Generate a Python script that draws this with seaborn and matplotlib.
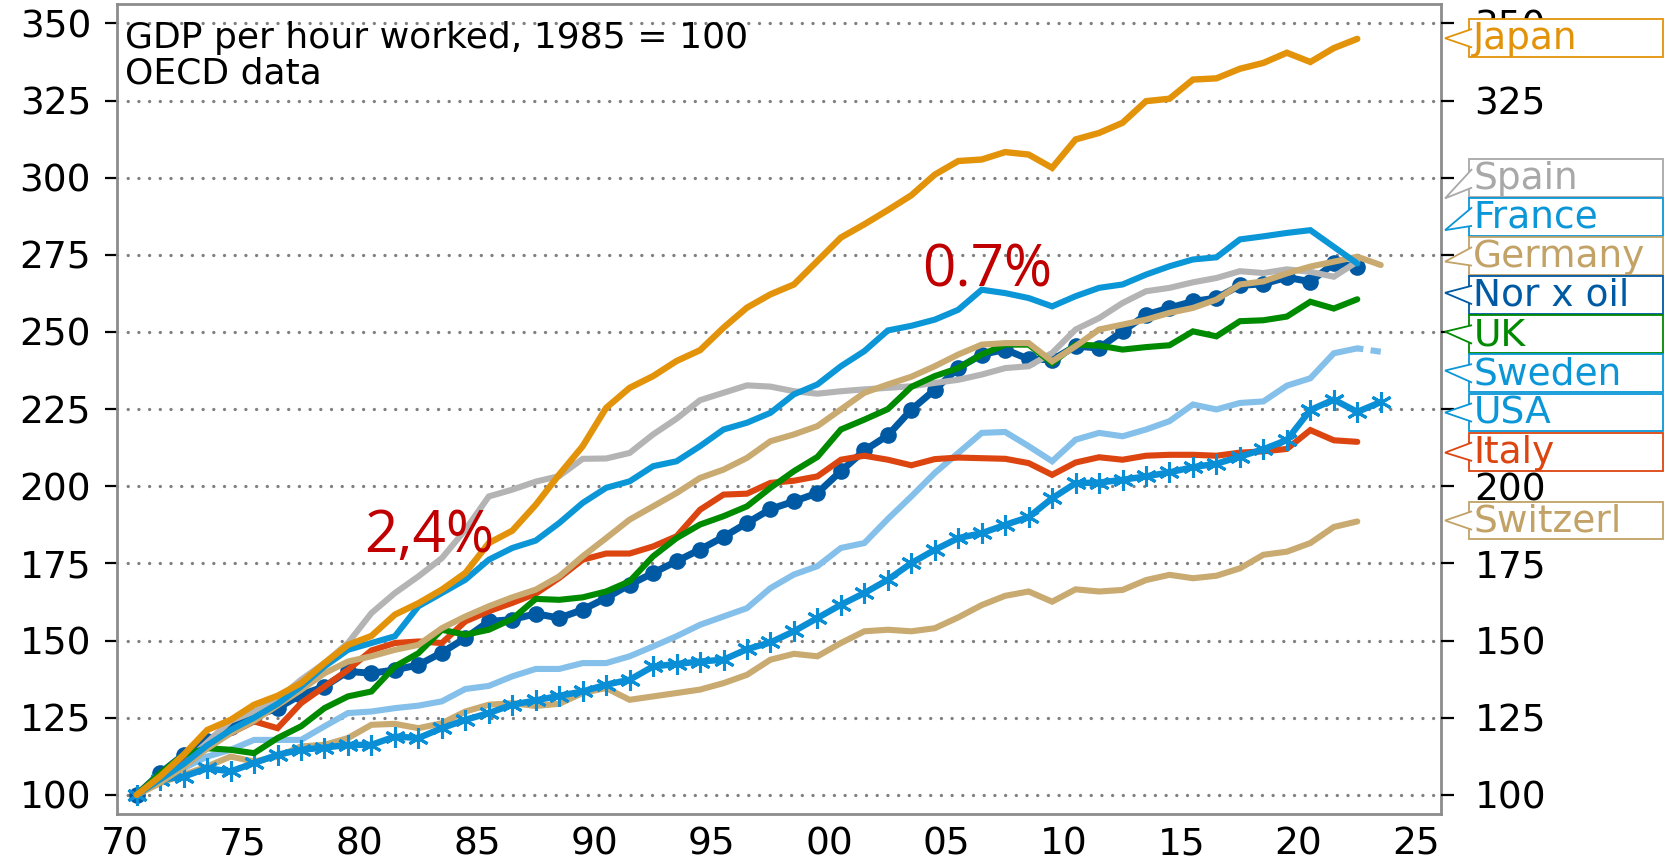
import numpy as np
import pandas as pd
import matplotlib
matplotlib.use("Agg")
import matplotlib.pyplot as plt
import matplotlib.transforms as mtrans
from matplotlib.patches import Rectangle, Polygon
import seaborn as sns

# data: GDP per hour worked, 1985 = 100, one value per year
years = np.arange(1970, 2023)       # 1970..2022
years_long = np.arange(1970, 2024)  # 1970..2023

japan = [100, 106, 113, 121, 124.3, 129.2, 132.1, 136.2, 142.7, 148.6, 151.5, 158.4, 162.1, 166.5,
         171.9, 181.6, 185.6, 194, 203.8, 213, 225.4, 231.9, 235.7, 240.6, 244.1, 251.4, 257.9,
         262.2, 265.4, 273, 280.6, 284.9, 289.5, 294.3, 301, 305.4, 305.9, 308.3, 307.5, 303.2,
         312.4, 314.5, 317.8, 324.8, 325.6, 331.8, 332.2, 335.3, 337.2, 340.5, 337.5, 342, 345]
spain = [100, 105, 110, 117, 124, 127, 131, 137.3, 142.7, 149.2, 158.9, 165.4, 170.8, 176.7,
         185.9, 196.7, 198.9, 201.5, 203.3, 208.9, 209, 210.8, 216.8, 221.9, 227.9, 230.3, 232.7,
         232.3, 230.8, 230, 230.8, 231.4, 231.9, 232.4, 233.5, 234.5, 236.2, 238.3, 238.9, 243.2,
         250.8, 254.5, 259.4, 263.2, 264.3, 266.1, 267.5, 269.7, 269.1, 270.3, 269.5, 267.9, 272.8]
france = [100, 105, 110, 116, 121, 125, 129.5, 135.1, 141.6, 147, 149.2, 151.4, 161.1, 165.4,
          169.7, 176.2, 180, 182.4, 188.1, 194.6, 199.5, 201.6, 206.5, 208.1, 213, 218.4, 220.6,
          223.8, 229.8, 233, 238.9, 243.8, 250.5, 252, 254, 257.2, 263.7, 262.6, 261, 258.3,
          261.6, 264.3, 265.4, 268.6, 271.3, 273.5, 274.2, 280, 281, 282.1, 283, 277.6, 272.2]
germany = [100, 104, 109, 115, 120, 124, 129, 134, 139.4, 143.2, 144.9, 147, 148.6, 154,
           157.8, 161.1, 164, 166.5, 170.8, 177.3, 183.2, 189.2, 193.5, 197.8, 202.7, 205.4, 209.2,
           214.6, 216.8, 219.5, 224.9, 230.3, 233, 235.5, 238.9, 242.7, 245.9, 246.4, 246.4, 240.5,
           245.4, 250.8, 252.4, 254, 256.2, 257.8, 260.5, 265.4, 266.4, 269, 271.2, 272.8, 274.4, 271.7]
nor_x_oil = [100, 107, 113, 117.5, 122, 125.4, 128.1, 132.4, 135.1, 140, 139.4, 140.5, 142.1, 146.1,
             150.8, 156.2, 156.8, 158.7, 157.3, 160, 163.8, 168.1, 171.9, 175.7, 179.5, 183.6, 188.1,
             192.6, 195.1, 197.8, 204.9, 211.6, 216.5, 224.8, 231.3, 238.3, 242.7, 244.3, 241.2, 241,
             245.4, 244.8, 250.2, 255.6, 257.8, 259.9, 261, 265.1, 265.6, 267.7, 266.3, 272.2, 271.1]
uk = [100, 107, 113, 115.1, 114.6, 113.5, 118.4, 122.2, 128.1, 131.9, 133.5, 141.6, 145.9, 153.5,
      151.9, 153.5, 157, 163.5, 163.2, 164, 165.9, 169.2, 177.3, 183.2, 187.6, 190.3, 193.5,
      199.5, 204.9, 209.5, 218.4, 221.6, 225, 232.2, 235.7, 238.3, 242.7, 245.9, 245.9, 239.9,
      245.9, 245.6, 244.3, 245.1, 245.7, 250.2, 248.6, 253.5, 253.8, 255, 259.8, 257.6, 260.6]
sweden = [100, 104.9, 108.6, 112.4, 114.6, 117.8, 117.8, 117.8, 122.2, 126.5, 127, 128.1, 128.9, 130.3,
          134.3, 135.3, 138.4, 140.8, 140.8, 142.7, 142.7, 144.9, 148.1, 151.4, 155.1, 157.8, 160.5,
          167, 171.4, 174.1, 180, 181.6, 189.4, 196.7, 204.3, 210.8, 217.3, 217.6, 213, 208.1,
          215.1, 217.3, 216.2, 218.4, 221.1, 226.5, 224.9, 227, 227.5, 232.6, 235, 243.1, 244.7, 243.6]
usa = [100, 104.9, 105.9, 108.6, 107.6, 110.3, 113, 114.6, 115.3, 116.2, 116.2, 118.9, 118.4, 121.6,
       124.3, 126.5, 129.2, 130.6, 132.1, 133.5, 135.7, 137.3, 141.6, 142.4, 143.2, 143.8, 147.2,
       149.4, 153, 157.3, 161.6, 165.4, 169.7, 175.1, 179.4, 183.2, 184.8, 187.5, 190, 196.1,
       201, 201.2, 202.1, 203.2, 204.5, 206.2, 207.3, 209.6, 212, 215, 224.7, 228.1, 224.1, 227.3]
italy = [100, 106, 110.3, 115.7, 120, 123.8, 121.6, 129.7, 135.1, 140.5, 146.8, 149.2, 149.7, 149.2,
         156.2, 159.5, 162.2, 165.2, 170.3, 176.2, 178.2, 178.2, 180.5, 183.8, 192.4, 197.3, 197.6,
         201.1, 201.8, 203.2, 208.6, 209.9, 208.6, 206.8, 208.8, 209.3, 209.1, 208.9, 207.5, 203.7,
         207.7, 209.4, 208.6, 209.9, 210.2, 210.2, 209.9, 210.9, 211.3, 212.1, 218.2, 214.9, 214.4]
switzerland = [100, 103.8, 106.5, 109.2, 112.4, 110.8, 112.4, 115.7, 116.2, 118.4, 122.7, 123, 121.6, 123.2,
               127, 129.2, 129.7, 128.8, 129.5, 133, 134.6, 130.8, 131.9, 133, 134.1, 136.2, 138.9,
               143.8, 145.7, 144.9, 149.2, 153, 153.5, 153, 154, 157.5, 161.5, 164.5, 165.9, 162.6,
               166.6, 165.9, 166.4, 169.6, 171.3, 170.2, 171, 173.4, 177.8, 178.8, 181.6, 186.8, 188.6]

label_names = ["Japan", "Spain", "France", "Germany", "Nor x oil", "UK", "Sweden", "USA", "Italy", "Switzerl"]
label_y = [345.2, 299.8, 287.4, 274.5, 262.0, 249.2, 236.6, 223.9, 211.2, 188.9]   # box centres
label_tip = [345.2, 293.3, 283.0, 272.8, 262.7, 250.1, 237.5, 223.9, 210.9, 188.9]  # pointer tips
label_colors = ["#E3930A", "#A8A8A8", "#0A96D7", "#C2A266", "#0059A3", "#008A00",
                "#0A96D7", "#0A96D7", "#DC4410", "#C2A266"]

yticks = [100, 125, 150, 175, 200, 225, 250, 275, 300, 325, 350]
right_labels = ["100", "125", "150", "175", "200", "", "", "", "", "325", "350"]  # rest hidden by boxes
xticks = np.arange(1970, 2026, 5)

# series styles, drawing order
series = [
    ("Nor x oil", years, nor_x_oil, dict(color="#0059A3", lw=5.0, marker="o", ms=12, mew=0)),
    ("Sweden", years, sweden[:-1], dict(color="#84C0EA", lw=4.4)),
    ("Switzerland", years, switzerland, dict(color="#C9AA71", lw=4.4)),
    ("Spain", years, spain, dict(color="#B4B4B4", lw=4.4)),
    ("Italy", years, italy, dict(color="#DC4410", lw=4.4)),
    ("USA", years_long, usa, dict(color="#0A8FD6", lw=4.6, marker=(6, 2, 0), ms=15, mew=2.2)),
    ("UK", years, uk, dict(color="#008A00", lw=4.4)),
    ("Germany", years_long, germany, dict(color="#C9AA71", lw=4.4)),
    ("France", years, france, dict(color="#0A96D7", lw=4.4)),
    ("Japan", years, japan, dict(color="#E3930A", lw=4.6)),
]

sns.set_style("white")
plt.rcParams["font.family"] = ["DejaVu Sans"]
plt.rcParams["text.color"] = "black"

fig = plt.figure(figsize=(16.71, 8.65), dpi=100)
ax = fig.add_axes([0.0703, 0.059, 0.7921, 0.9364])

for name, xs, ys, kw in series:
    df = pd.DataFrame({"year": xs + 0.5, "value": ys})
    sns.lineplot(data=df, x="year", y="value", ax=ax, color=kw["color"], legend=False)
    line = ax.lines[-1]
    line.set_linewidth(kw["lw"])
    line.set_solid_joinstyle("miter")
    if "marker" in kw:
        line.set_marker(kw["marker"])
        line.set_markersize(kw["ms"])
        line.set_markeredgewidth(kw["mew"])
        line.set_markeredgecolor(kw["color"])
        line.set_markerfacecolor(kw["color"])

# last Swedish observation dashed
df_sw = pd.DataFrame({"year": years_long[-2:] + 0.5, "value": sweden[-2:]})
sns.lineplot(data=df_sw, x="year", y="value", ax=ax, color="#84C0EA", legend=False)
ax.lines[-1].set_linewidth(4.4)
ax.lines[-1].set_linestyle((0.8, (1.8, 1.2)))

ax.set_xlim(1969.68, 2026.07)
ax.set_ylim(93.8, 356.3)
ax.set_xticks(xticks)
ax.set_xticklabels([f"{x % 100:02d}" for x in xticks])
ax.set_yticks(yticks)
ax.set_xlabel("")
ax.set_ylabel("")

ax.grid(axis="y", color="#808080", linewidth=2.4, linestyle=(0, (0.01, 3.2)),
        dash_capstyle="round")
ax.set_axisbelow(True)
for s in ax.spines.values():
    s.set_color("#8C8C8C")
    s.set_linewidth(2)

ax.tick_params(axis="y", direction="out", length=9, width=1.6, color="black",
               labelsize=27, labelcolor="black", pad=10)
ax.tick_params(axis="x", direction="out", length=7, width=1.2, color="#555555",
               labelsize=27, labelcolor="black", pad=2)

ax2 = ax.twinx()
ax2.set_ylim(ax.get_ylim())
ax2.set_yticks(yticks)
ax2.set_yticklabels(right_labels)
ax2.tick_params(axis="y", direction="out", length=9, width=1.6, color="black",
                labelsize=27, labelcolor="black", pad=15)
for s in ax2.spines.values():
    s.set_visible(False)

ax.text(0.006, 0.979, "GDP per hour worked, 1985 = 100\nOECD data", transform=ax.transAxes,
        ha="left", va="top", fontsize=26, linespacing=1.05, color="black")

ax.text(1980.2, 178.7, "2,4%", color="#C00000", fontsize=42, family=["Open Sans", "DejaVu Sans"],
        ha="left", va="baseline")
ax.text(2003.95, 264.7, "0.7%", color="#C00000", fontsize=42, family=["Open Sans", "DejaVu Sans"],
        ha="left", va="baseline")

# callout labels on the right
trans = mtrans.blended_transform_factory(ax2.transAxes, ax2.transData)
box_left, box_w, box_h = 1.0214, 0.1466, 12.3
for name, yc, yt, col in zip(label_names, label_y, label_tip, label_colors):
    ax2.add_patch(Rectangle((box_left, yc - box_h / 2), box_w, box_h, transform=trans,
                            facecolor="white", edgecolor=col, linewidth=1.3,
                            clip_on=False, zorder=5))
    ax2.add_patch(Polygon([(box_left + 0.002, yc + 3), (1.003, yt), (box_left + 0.002, yc - 3)],
                          closed=False, transform=trans, facecolor="white", edgecolor=col,
                          linewidth=1.3, clip_on=False, zorder=6))
    ax2.text(box_left + 0.003, yc - 0.3, name, transform=trans, color=col, fontsize=27,
             ha="left", va="center", zorder=7, clip_on=False)

fig.savefig("out.png", dpi=100)
plt.close(fig)
